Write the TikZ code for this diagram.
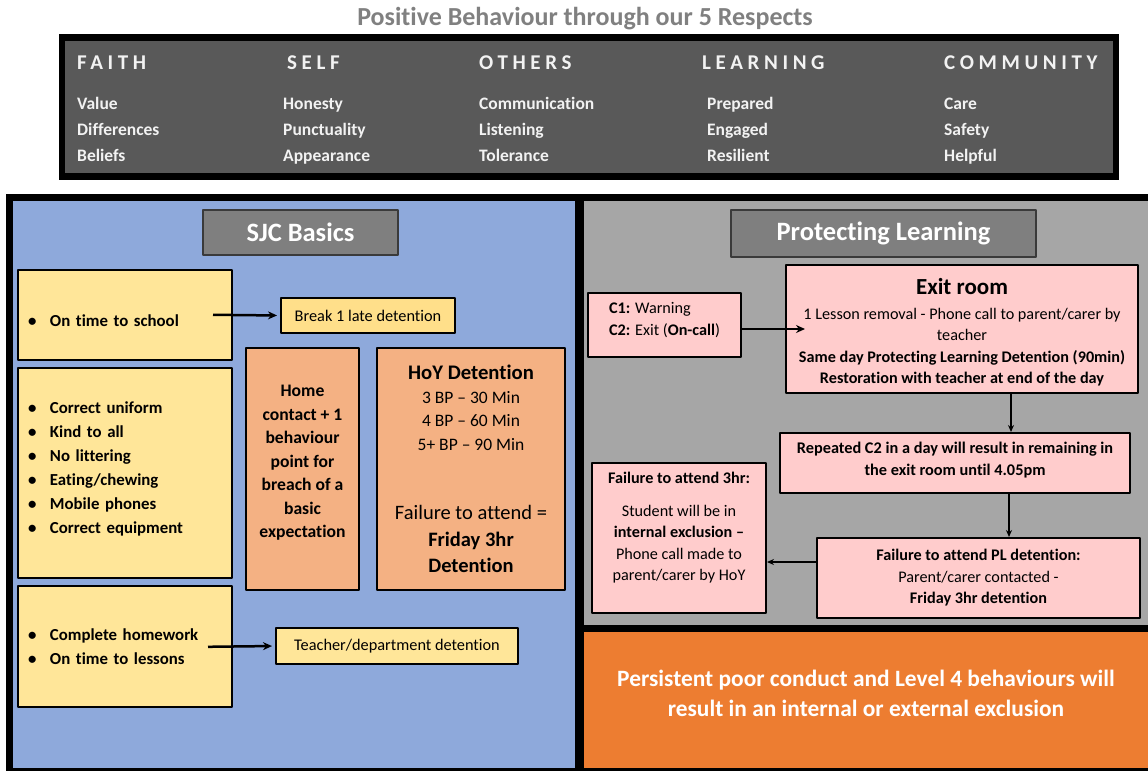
\documentclass[tikz,border=0pt]{standalone}
\usepackage{fontspec}
\setmainfont{Carlito}[Ligatures={TeX,CommonOff}]
\newfontfamily\headfont{Carlito}[LetterSpace=22,Ligatures=CommonOff]
\usetikzlibrary{positioning,arrows.meta}
\definecolor{titlegray}{HTML}{808080}
\definecolor{bargray}{HTML}{595959}
\definecolor{hdrgray}{HTML}{7F7F7F}
\definecolor{hdrline}{HTML}{3A3A3A}
\definecolor{sjcblue}{HTML}{8EA9DB}
\definecolor{plgray}{HTML}{A6A6A6}
\definecolor{exorange}{HTML}{ED7D31}
\definecolor{basicyellow}{HTML}{FFE699}
\definecolor{breakyellow}{HTML}{FFDF8A}
\definecolor{salmon}{HTML}{F4B183}
\definecolor{pink}{HTML}{FFCCCC}
\newcommand\ybul{\makebox[22pt][l]{\textbullet}}
\begin{document}
\begin{tikzpicture}[x=1pt,y=-1pt,line join=round,>={Stealth[length=9pt,width=8pt]}]
\tikzset{box/.style={draw=black,line width=2pt,inner sep=0pt,anchor=north west},
  hdr/.style={box,draw=hdrline,fill=hdrgray,text=white,font=\fontsize{26.5}{30}\selectfont\bfseries},
  ybox/.style={box,fill=basicyellow,minimum width=214,text width=194,inner xsep=10pt,align=left,font=\fontsize{16.8}{24}\selectfont\bfseries},
  pbox/.style={box,fill=pink,align=center,font=\fontsize{16.2}{21.5}\selectfont},
  link/.style={->,line width=2.5pt},
  thin link/.style={-{Stealth[length=7pt,width=6pt]},line width=1.5pt}}
\useasboundingbox (0,0) rectangle (1148,771);
% title and the five respects
\node[text=titlegray,font=\fontsize{26}{30}\selectfont\bfseries] (title) at (585,19) {Positive Behaviour through our 5 Respects};
\fill[black] (59,34) rectangle (1119,180);
\fill[bargray] (65,41) rectangle (1113,173);
\foreach \hx/\ix/\h/\a/\b/\c [count=\i] in {77/77/FAITH/Value/Differences/Beliefs,
    287/283/SELF/Honesty/Punctuality/Appearance,
    479/479/OTHERS/Communication/Listening/Tolerance,
    702/707/LEARNING/Prepared/Engaged/Resilient,
    944/944/COMMUNITY/Care/Safety/Helpful}{
  \node[anchor=base west,inner sep=0pt,text=white!95!black,font=\headfont\bfseries\fontsize{21}{25}\selectfont] (head\i) at (\hx,69) {\h};
  \node[anchor=base west,inner sep=0pt,text=white!95!black,font=\fontsize{17.5}{20}\selectfont\bfseries] (word\i-1) at (\ix,109.5) {\a};
  \node[anchor=base west,inner sep=0pt,text=white!95!black,font=\fontsize{17.5}{20}\selectfont\bfseries] (word\i-2) at (\ix,135.5) {\b};
  \node[anchor=base west,inner sep=0pt,text=white!95!black,font=\fontsize{17.5}{20}\selectfont\bfseries] (word\i-3) at (\ix,161.5) {\c};
}
% panels
\fill[black] (6,194) rectangle (1148,771);
\fill[sjcblue] (13,201) rectangle (575,768);
\fill[plgray] (584,201) rectangle (1148,625);
\fill[exorange] (584,632) rectangle (1148,768);
% SJC basics
\node[hdr,minimum width=195,minimum height=45] (sjc) at (202,209) {SJC Basics};
\node[ybox,minimum height=90,text height=24pt] (ontime) at (17,269) {\ybul On time to school};
\node[ybox,minimum height=210,text height=4pt] (rules) at (17,367) {\ybul Correct uniform\\ \ybul Kind to all\\ \ybul No littering\\ \ybul Eating/chewing\\ \ybul Mobile phones\\ \ybul Correct equipment};
\node[ybox,minimum height=121] (homework) at (17,585) {\ybul Complete homework\\ \ybul On time to lessons};
\node[box,fill=breakyellow,minimum width=174,minimum height=35,font=\fontsize{16.3}{18}\selectfont] (late) at (280,297) {Break 1 late detention};
\node[box,fill=basicyellow,minimum width=242,minimum height=36,font=\fontsize{16.3}{18}\selectfont] (dept) at (275,627) {Teacher/department detention};
\node[box,fill=salmon,minimum width=113,minimum height=242,align=center,text depth=14.5pt,font=\fontsize{17.6}{23.5}\selectfont\bfseries] (home) at (245,347) {Home\\ contact + 1\\ behaviour\\ point for\\ breach of a\\ basic\\ expectation};
\node[box,fill=salmon,minimum width=188,minimum height=242,align=center,font=\fontsize{17.5}{23.5}\selectfont] (hoy) at (376,347)
  {{\fontsize{20.7}{23}\selectfont\bfseries HoY Detention}\\ 3 BP -- 30 Min\\ 4 BP -- 60 Min\\ 5+ BP -- 90 Min\\[46pt]
   {\fontsize{20.5}{26}\selectfont Failure to attend =}\\[3pt] {\fontsize{20.5}{26}\selectfont\bfseries Friday 3hr}\\[3pt] {\fontsize{20.5}{26}\selectfont\bfseries Detention}};
\draw[link,shorten <=-20pt,shorten >=3pt] (ontime.east) -- (late.west);
\draw[link,shorten <=-25pt,shorten >=3pt] (homework.east) -- (dept.west);
% protecting learning
\node[hdr,minimum width=305,minimum height=47] (pl) at (730,209) {Protecting Learning};
\node[pbox,minimum width=153,minimum height=64,align=left,text depth=12.5pt] (warn) at (587,292) {\textbf{C1:} Warning\\ \textbf{C2:} Exit (\textbf{On-call})};
\node[pbox,minimum width=352,minimum height=128] (exit) at (785,264)
  {{\fontsize{23}{26}\selectfont\bfseries\rule{0pt}{23pt}Exit room}\\[3pt] 1 Lesson removal - Phone call to parent/carer by\\ teacher\\
   \textbf{Same day Protecting Learning Detention (90min)}\\ \textbf{Restoration with teacher at end of the day}};
\node[pbox,minimum width=350,minimum height=60,text depth=9pt,font=\fontsize{16.3}{22}\selectfont\bfseries] (repeat) at (779,432) {Repeated C2 in a day will result in remaining in\\ the exit room until 4.05pm};
\node[pbox,minimum width=323,minimum height=80] (pldet) at (816,537) {\textbf{Failure to attend PL detention:}\\ Parent/carer contacted -\\ \textbf{Friday 3hr detention}};
\node[pbox,minimum width=174,minimum height=150,text depth=23pt] (fail3) at (591,462)
  {\textbf{Failure to attend 3hr:}\\[11pt] Student will be in\\ \textbf{internal exclusion --}\\ Phone call made to\\ parent/carer by HoY};
\draw[link,shorten >=-20pt] (warn.east |- exit.west) -- (exit.west);
\draw[thin link] ([xshift=49pt]exit.south) -- ([xshift=49pt]exit.south |- repeat.north);
\draw[thin link] ([xshift=54pt]repeat.south) -- ([xshift=54pt]repeat.south |- pldet.north);
\draw[thin link] ([yshift=16pt]pldet.west) -- ([yshift=16pt]pldet.west -| fail3.east);
% exclusion
\node[text=white,align=center,font=\fontsize{23.4}{30}\selectfont\bfseries] (excl) at (866,693) {Persistent poor conduct and Level 4 behaviours will\\ result in an internal or external exclusion};
\end{tikzpicture}
\end{document}
